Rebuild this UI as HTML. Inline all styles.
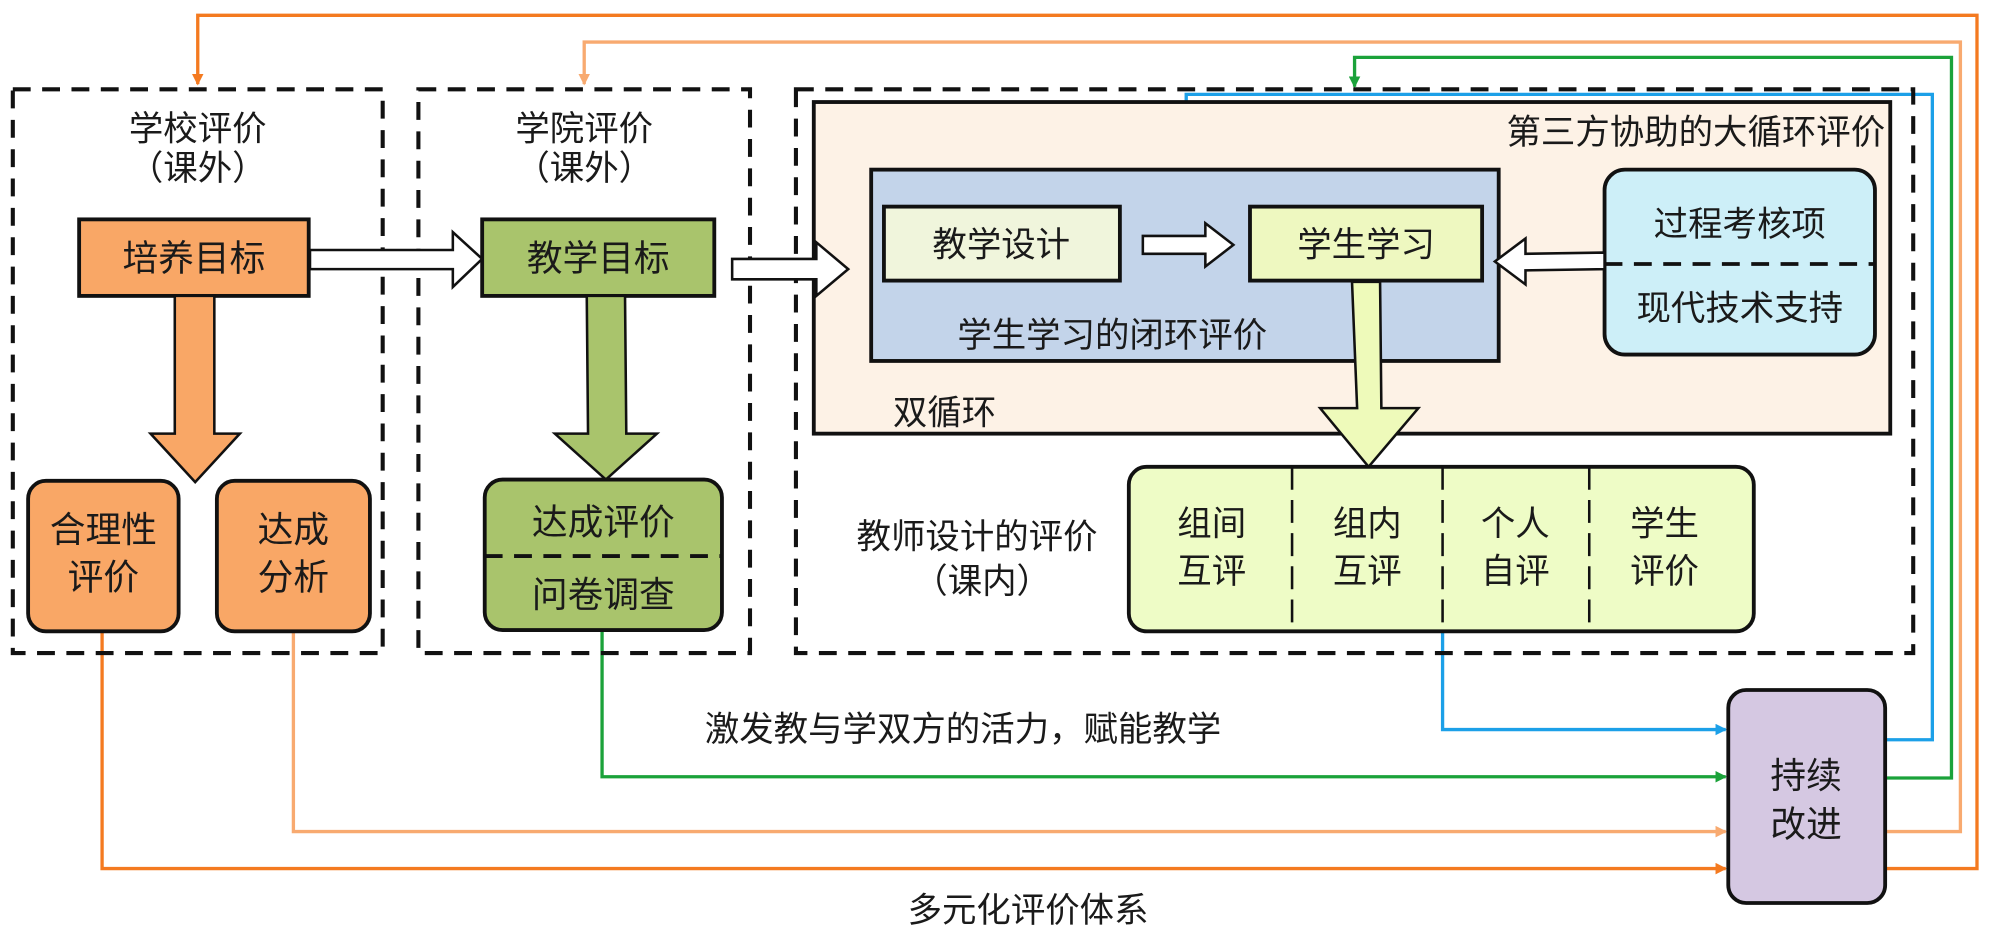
<!DOCTYPE html>
<html><head><meta charset="utf-8"><style>
html,body{margin:0;padding:0;background:#fff;}
svg{display:block}
text{font-family:"Liberation Sans","Noto Sans CJK SC",sans-serif;fill:#1a1a1a;}
</style></head><body>
<svg width="2000" height="940" viewBox="0 0 1568 737" xmlns="http://www.w3.org/2000/svg">
<defs>
<marker id="mo" markerWidth="9" markerHeight="9" refX="8" refY="4.5" orient="auto" markerUnits="userSpaceOnUse"><path d="M0,0 L9,4.5 L0,9 z" fill="#F47A20"/></marker>
<marker id="ml" markerWidth="9" markerHeight="9" refX="8" refY="4.5" orient="auto" markerUnits="userSpaceOnUse"><path d="M0,0 L9,4.5 L0,9 z" fill="#F8AA70"/></marker>
<marker id="mg" markerWidth="9" markerHeight="9" refX="8" refY="4.5" orient="auto" markerUnits="userSpaceOnUse"><path d="M0,0 L9,4.5 L0,9 z" fill="#1BA23A"/></marker>
<marker id="mb" markerWidth="9" markerHeight="9" refX="8" refY="4.5" orient="auto" markerUnits="userSpaceOnUse"><path d="M0,0 L9,4.5 L0,9 z" fill="#1CA0E8"/></marker>
</defs>
<g fill="none" stroke-width="2.6">
<polyline points="1478,681 1550,681 1550,12 155,12 155,66" stroke="#F47A20" marker-end="url(#mo)"/>
<polyline points="1478,652 1537,652 1537,33 458,33 458,66" stroke="#F8AA70" marker-end="url(#ml)"/>
<polyline points="1478,610 1530,610 1530,45 1062,45 1062,68" stroke="#1BA23A" marker-end="url(#mg)"/>
<polyline points="1478,580 1515,580 1515,74 930,74 930,131" stroke="#1CA0E8" marker-end="url(#mb)"/>
<polyline points="80,495 80,681 1353,681" stroke="#F47A20" marker-end="url(#mo)"/>
<polyline points="230,495 230,652 1353,652" stroke="#F8AA70" marker-end="url(#ml)"/>
<polyline points="472,494 472,609 1353,609" stroke="#1BA23A" marker-end="url(#mg)"/>
<polyline points="1131,495 1131,572 1353,572" stroke="#1CA0E8" marker-end="url(#mb)"/>
</g>
<g fill="none" stroke="#111" stroke-width="3.2" stroke-dasharray="14,9">
<rect x="10" y="70" width="290" height="442"/>
<rect x="328" y="70" width="260" height="442"/>
<rect x="624" y="70" width="876" height="442"/>
</g>
<g font-size="27">
<text x="155" y="110" text-anchor="middle">学校评价</text>
<text x="155" y="141" text-anchor="middle">（课外）</text>
<text x="458" y="110" text-anchor="middle">学院评价</text>
<text x="458" y="141" text-anchor="middle">（课外）</text>
</g>
<rect x="638" y="80" width="844" height="260" fill="#FDF2E6" stroke="#111" stroke-width="3"/>
<text x="1478" y="113" font-size="27" text-anchor="end">第三方协助的大循环评价</text>
<text x="700" y="333" font-size="27">双循环</text>
<rect x="683" y="133" width="492" height="150" fill="#C3D4EA" stroke="#111" stroke-width="3"/>
<text x="872" y="272" font-size="27" text-anchor="middle">学生学习的闭环评价</text>
<rect x="693" y="162" width="185" height="58" fill="#F0F5DC" stroke="#111" stroke-width="3"/>
<text x="785" y="201" font-size="27" text-anchor="middle">教学设计</text>
<rect x="980" y="162" width="182" height="58" fill="#EEF8C0" stroke="#111" stroke-width="3"/>
<text x="1071" y="201" font-size="27" text-anchor="middle">学生学习</text>
<path d="M896,185 L945,185 L945,175 L967,192 L945,209 L945,199 L896,199 Z" fill="#fff" stroke="#111" stroke-width="2"/>
<rect x="1258" y="133" width="212" height="145" rx="16" fill="#CDEFF8" stroke="#111" stroke-width="3"/>
<line x1="1258" y1="207" x2="1470" y2="207" stroke="#111" stroke-width="3" stroke-dasharray="14,9"/>
<text x="1364" y="185" font-size="27" text-anchor="middle">过程考核项</text>
<text x="1364" y="251" font-size="27" text-anchor="middle">现代技术支持</text>
<path d="M1258,198 L1196,199 L1196,187 L1172,205 L1196,223 L1196,212 L1258,211 Z" fill="#fff" stroke="#111" stroke-width="2"/>
<path d="M1060,221 L1082,221 L1083,320 L1112,320 L1073,366 L1035,320 L1064,320 Z" fill="#EEFABA" stroke="#111" stroke-width="2"/>
<rect x="885" y="366" width="490" height="129" rx="14" fill="#EEFCC6" stroke="#111" stroke-width="3"/>
<g stroke="#111" stroke-width="2" stroke-dasharray="18,8">
<line x1="1013" y1="366" x2="1013" y2="495"/>
<line x1="1131" y1="366" x2="1131" y2="495"/>
<line x1="1246" y1="366" x2="1246" y2="495"/>
</g>
<g font-size="27" text-anchor="middle">
<text x="950" y="420">组间</text><text x="950" y="457">互评</text>
<text x="1072" y="420">组内</text><text x="1072" y="457">互评</text>
<text x="1188" y="420">个人</text><text x="1188" y="457">自评</text>
<text x="1305" y="420">学生</text><text x="1305" y="457">评价</text>
</g>
<text x="766" y="430" font-size="27" text-anchor="middle">教师设计的评价</text>
<text x="770" y="465" font-size="27" text-anchor="middle">（课内）</text>
<rect x="62" y="172" width="180" height="60" fill="#F9A766" stroke="#111" stroke-width="3"/>
<text x="152" y="212" font-size="28" text-anchor="middle">培养目标</text>
<rect x="378" y="172" width="182" height="60" fill="#A9C46C" stroke="#111" stroke-width="3"/>
<text x="469" y="212" font-size="28" text-anchor="middle">教学目标</text>
<path d="M243,196 L355,196 L355,182 L378,203 L355,225 L355,211 L243,211 Z" fill="#fff" stroke="#111" stroke-width="2"/>
<path d="M574,203 L640,203 L640,190 L665,211 L640,232 L640,219 L574,219 Z" fill="#fff" stroke="#111" stroke-width="2"/>
<path d="M137,232 L168,232 L168,340 L188,340 L153,378 L118,340 L137,340 Z" fill="#F9A766" stroke="#111" stroke-width="2"/>
<path d="M460,232 L490,232 L491,340 L515,340 L475,376 L435,340 L461,340 Z" fill="#A9C46C" stroke="#111" stroke-width="2"/>
<rect x="22" y="377" width="118" height="118" rx="14" fill="#F9A766" stroke="#111" stroke-width="3"/>
<text x="81" y="425" font-size="28" text-anchor="middle">合理性</text>
<text x="81" y="462" font-size="28" text-anchor="middle">评价</text>
<rect x="170" y="377" width="120" height="118" rx="14" fill="#F9A766" stroke="#111" stroke-width="3"/>
<text x="230" y="425" font-size="28" text-anchor="middle">达成</text>
<text x="230" y="462" font-size="28" text-anchor="middle">分析</text>
<rect x="380" y="376" width="186" height="118" rx="14" fill="#A9C46C" stroke="#111" stroke-width="3"/>
<line x1="380" y1="436" x2="566" y2="436" stroke="#111" stroke-width="3" stroke-dasharray="14,9"/>
<text x="473" y="419" font-size="28" text-anchor="middle">达成评价</text>
<text x="473" y="476" font-size="28" text-anchor="middle">问卷调查</text>
<rect x="1355" y="541" width="123" height="167" rx="14" fill="#D5C8E2" stroke="#111" stroke-width="3"/>
<text x="1416" y="618" font-size="28" text-anchor="middle">持续</text>
<text x="1416" y="656" font-size="28" text-anchor="middle">改进</text>
<text x="755" y="581" font-size="27" text-anchor="middle">激发教与学双方的活力，赋能教学</text>
<text x="806" y="723" font-size="27" text-anchor="middle">多元化评价体系</text>
</svg>
</body></html>
